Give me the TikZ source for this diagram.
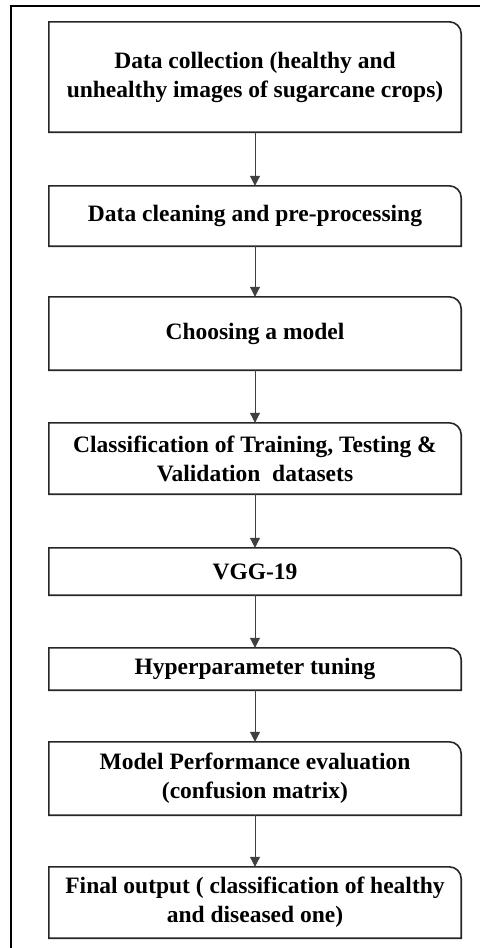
\documentclass[tikz,border=0pt]{standalone}
\usepackage{fontspec}
\setmainfont{Liberation Serif}
\usetikzlibrary{arrows.meta}
\tikzset{
  stepbox/.style={minimum width=412pt,inner sep=0pt,align=center,
    font=\fontsize{23.5}{29}\selectfont\bfseries},
  boxline/.style={line width=1.6pt,black!85},
  flow/.style={-{Triangle[width=10pt,length=10pt]},line width=1pt,black!75}
}
\begin{document}
\begin{tikzpicture}[x=1pt,y=1pt,line join=miter]
	\useasboundingbox (0,0) rectangle (480,-948);
	% outer frame (only top and left are visible)
	\draw[line width=1.8pt] (11,-948) -- (11,-6) -- (480,-6);
	% steps
	\node[stepbox,minimum height=110pt] (collect) at (255,-77) {Data collection (healthy and\\unhealthy images of sugarcane crops)};
	\node[stepbox,minimum height=60pt] (clean) at (255,-216) {Data cleaning and pre-processing};
	\node[stepbox,minimum height=73pt] (choose) at (255,-333.5) {Choosing a model};
	\node[stepbox,minimum height=71pt] (split) at (255,-458.5) {Classification of Training, Testing \&\\Validation~ datasets};
	\node[stepbox,minimum height=47pt] (vgg) at (255,-571.5) {VGG-19};
	\node[stepbox,minimum height=42pt] (tune) at (255,-669) {Hyperparameter tuning};
	\node[stepbox,minimum height=73pt] (eval) at (255,-778.5) {Model Performance evaluation\\(confusion matrix)};
	\node[stepbox,minimum height=71pt] (final) at (255,-902.5) {Final output ( classification of healthy\\and diseased one)};
	% boxes, rounded only at the top right
	\foreach \n in {collect,clean,choose,split,vgg,tune,eval,final}
		\draw[boxline] (\n.south west) -- (\n.north west) -- ([xshift=-12pt]\n.north east)
			arc[start angle=90,end angle=0,radius=12pt] -- (\n.south east) -- cycle;
	% arrows
	\foreach \a/\b in {collect/clean,clean/choose,choose/split,split/vgg,vgg/tune,tune/eval,eval/final}
		\draw[flow] (\a) -- (\b);
\end{tikzpicture}
\end{document}
